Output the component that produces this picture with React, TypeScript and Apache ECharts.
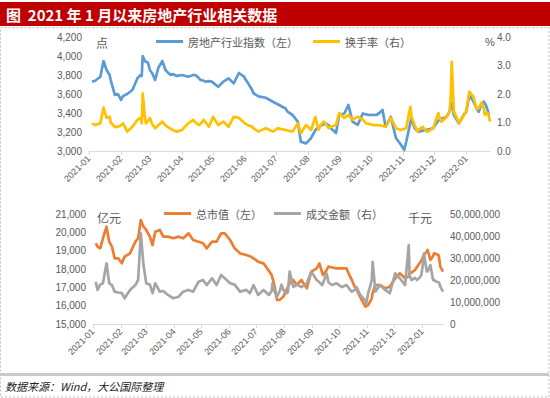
import React, { useEffect, useRef } from "react";
import * as echarts from "echarts";

// ---- top chart: 房地产行业指数 (left) & 换手率 (right) ----
const topDates = [
  "2021-01-04","2021-01-07","2021-01-12","2021-01-15","2021-01-18","2021-01-21","2021-01-22","2021-01-26","2021-01-29",
  "2021-02-01","2021-02-03","2021-02-07","2021-02-12","2021-02-17","2021-02-20","2021-02-21","2021-02-22","2021-02-24","2021-02-25","2021-02-27",
  "2021-03-01","2021-03-03","2021-03-06","2021-03-09","2021-03-13","2021-03-16","2021-03-18","2021-03-21","2021-03-23","2021-03-25","2021-03-27",
  "2021-04-01","2021-04-07","2021-04-12","2021-04-14","2021-04-17","2021-04-19","2021-04-22","2021-04-24","2021-04-27","2021-04-30",
  "2021-05-01","2021-05-06","2021-05-11","2021-05-16","2021-05-21","2021-05-26","2021-05-31",
  "2021-06-01","2021-06-04","2021-06-08","2021-06-09","2021-06-14","2021-06-21","2021-06-28",
  "2021-07-03","2021-07-07","2021-07-10","2021-07-12","2021-07-17","2021-07-22","2021-07-25","2021-07-30",
  "2021-08-04","2021-08-08","2021-08-11","2021-08-13","2021-08-16","2021-08-18","2021-08-21","2021-08-23","2021-08-28","2021-08-31",
  "2021-09-05","2021-09-09","2021-09-13","2021-09-18","2021-09-23","2021-09-26","2021-09-29",
  "2021-10-03","2021-10-06","2021-10-09","2021-10-12","2021-10-15","2021-10-20","2021-10-25","2021-10-30",
  "2021-11-02","2021-11-04","2021-11-06","2021-11-08","2021-11-09","2021-11-12","2021-11-15","2021-11-16","2021-11-20","2021-11-23","2021-11-25","2021-11-30",
  "2021-12-05","2021-12-06","2021-12-08","2021-12-12","2021-12-13","2021-12-16","2021-12-17","2021-12-18","2021-12-20","2021-12-25","2021-12-30",
  "2022-01-01","2022-01-04","2022-01-08","2022-01-11","2022-01-13","2022-01-16","2022-01-18","2022-01-19","2022-01-20","2022-01-22","2022-01-23","2022-01-24"
];
const indexValues = [
  3730,3740,3782,3947,3853,3800,3747,3590,3600,
  3537,3580,3600,3642,3768,3800,3790,4000,3950,3940,3930,
  3850,3821,3747,3874,3947,3853,3830,3800,3810,3800,3790,
  3800,3782,3800,3800,3770,3747,3740,3730,3735,3730,
  3720,3677,3730,3765,3712,3821,3782,
  3760,3712,3640,3610,3575,3560,3519,
  3490,3466,3450,3414,3379,3309,3098,3080,
  3137,3221,3250,3270,3280,3290,3270,3240,3190,3379,
  3395,3484,3309,3275,3395,3385,3379,
  3380,3379,3400,3432,3255,3360,3137,3063,
  3010,3100,3200,3300,3345,3240,3210,3204,3215,3220,3225,3240,
  3320,3325,3340,3355,3360,3420,3484,3500,3379,3290,3390,
  3412,3590,3520,3450,3412,3500,3520,3500,3484,3420,3379,3380
];
const turnoverValues = [
  0.97,0.91,0.97,1.52,1.16,1.2,1.0,0.85,0.85,
  0.9,0.97,0.68,0.85,1.1,1.16,0.97,2.02,1.2,0.97,1.05,
  1.16,0.95,0.8,0.9,1.03,0.9,0.85,0.78,0.74,0.7,0.68,
  0.74,0.97,1.09,1.0,0.91,0.95,1.09,1.0,0.85,1.1,
  1.2,0.91,1.03,0.85,1.2,1.16,1.0,
  0.97,0.9,0.85,0.8,0.68,0.8,0.68,
  0.8,0.76,0.74,0.72,0.68,0.97,0.62,0.91,
  0.74,1.2,0.74,0.9,1.03,0.95,0.8,0.85,0.91,1.33,
  1.16,1.27,1.1,1.2,1.1,0.97,0.95,
  0.91,0.91,0.91,0.88,0.85,1.16,0.8,0.74,
  0.78,0.8,1.2,1.55,1.2,0.91,0.68,0.75,0.85,0.7,0.68,0.8,
  1.33,1.2,1.03,1.16,1.2,1.39,1.9,3.13,1.39,0.97,1.27,
  1.4,2.08,1.9,1.47,1.5,1.7,1.5,1.27,1.3,1.33,1.2,1.03
];

// ---- bottom chart: 总市值 (left, 亿元) & 成交金额 (right, 千元) ----
const bottomDates = [
  "2021-01-04","2021-01-06","2021-01-09","2021-01-12","2021-01-16","2021-01-19","2021-01-22","2021-01-25","2021-01-29",
  "2021-02-02","2021-02-05","2021-02-11","2021-02-17","2021-02-20","2021-02-23","2021-02-26",
  "2021-03-01","2021-03-05","2021-03-08","2021-03-11","2021-03-16","2021-03-20","2021-03-25","2021-03-31",
  "2021-04-06","2021-04-11","2021-04-17","2021-04-22","2021-04-28",
  "2021-05-03","2021-05-07","2021-05-13","2021-05-18","2021-05-23","2021-05-27",
  "2021-06-02","2021-06-07","2021-06-13","2021-06-20","2021-06-24","2021-06-28",
  "2021-07-03","2021-07-09","2021-07-13","2021-07-15","2021-07-18","2021-07-19","2021-07-21","2021-07-24","2021-07-27","2021-07-29","2021-07-31",
  "2021-08-04","2021-08-05","2021-08-07","2021-08-11","2021-08-15","2021-08-20","2021-08-26","2021-08-31",
  "2021-09-06","2021-09-09","2021-09-12","2021-09-13","2021-09-17","2021-09-19","2021-09-23","2021-09-28",
  "2021-10-04","2021-10-09","2021-10-13","2021-10-15","2021-10-18","2021-10-20","2021-10-24","2021-10-26","2021-10-30","2021-10-31",
  "2021-11-02","2021-11-04","2021-11-06","2021-11-07","2021-11-10","2021-11-15","2021-11-21","2021-11-26",
  "2021-12-02","2021-12-07","2021-12-13","2021-12-17","2021-12-18","2021-12-20","2021-12-24","2021-12-26","2021-12-29","2021-12-31",
  "2022-01-02","2022-01-03","2022-01-06","2022-01-07","2022-01-10","2022-01-13","2022-01-14","2022-01-17","2022-01-19","2022-01-20","2022-01-21","2022-01-24"
];
const marketCapValues = [
  19400,19218,19127,19673,20309,19490,19218,18582,18582,
  18309,18673,18855,19490,19673,20673,20309,
  20127,19764,19309,20036,20127,19764,19764,19673,
  19764,19673,19945,19582,19490,
  19400,19127,19490,19490,19945,19945,
  19582,19127,18855,18764,18700,18582,
  18400,18309,18036,17900,17673,17500,17127,16309,16309,16400,16491,
  16900,17036,17200,17400,17127,17400,16945,17855,
  18036,18309,17800,17673,17950,18127,18080,18036,
  18036,18036,17582,17400,17036,16900,16491,16300,15945,15980,
  16036,16200,16400,16700,17127,17127,16945,17036,
  17491,17764,17491,17600,17764,17800,17945,18100,18309,18450,
  18673,18800,18950,19036,18491,18700,18855,18800,18764,18500,18127,17855
];
const turnoverAmountValues = [
  19200000,15500000,17900000,18500000,27600000,18500000,17700000,14700000,14300000,
  14000000,11700000,15500000,17700000,20000000,41200000,26800000,
  18500000,17900000,14000000,18500000,14700000,15000000,13200000,11700000,
  12400000,14700000,15500000,14700000,19200000,
  20000000,17700000,20800000,17700000,22300000,20800000,
  18500000,17900000,14700000,15500000,14000000,17700000,
  13200000,15500000,14000000,13200000,15000000,18500000,15000000,12400000,15000000,17900000,15500000,
  14000000,14500000,23800000,16800000,17900000,16800000,18500000,23800000,
  20000000,19000000,17700000,18500000,23000000,19000000,17700000,18500000,
  16800000,17700000,15500000,14700000,15500000,16800000,13500000,12400000,10500000,9400000,
  14000000,16800000,20000000,28300000,14700000,17700000,15500000,14000000,
  23000000,20800000,17700000,35900000,22000000,20000000,21000000,20000000,21000000,22300000,
  28000000,32100000,23800000,24000000,26800000,20000000,20000000,19200000,19000000,18500000,17000000,14700000
];

const FONT = '"Liberation Sans", "Noto Sans CJK SC", sans-serif';
const CJK = '"Noto Sans CJK SC", sans-serif';
const AXIS_TEXT = "#595959";

function buildDays(): string[] {
  const out: string[] = [];
  const start = Date.UTC(2021, 0, 1);
  const end = Date.UTC(2022, 0, 24);
  for (let t = start; t <= end; t += 86400000) {
    out.push(new Date(t).toISOString().slice(0, 10));
  }
  return out;
}

export default function App() {
  const ref = useRef<HTMLDivElement>(null);

  useEffect(() => {
    if (!ref.current) return;
    const chart = echarts.init(ref.current, undefined, { renderer: "svg" });
    const days = buildDays();
    const idx: Record<string, number> = {};
    days.forEach((d, i) => (idx[d] = i));
    const pairs = (dates: string[], vals: number[]) => dates.map((d, i) => [idx[d], vals[i]]);

    const isMonthStart = (_i: number, v: string) => String(v).slice(8) === "01";
    const xAxisBase = (gridIndex: number) => ({
      type: "category",
      gridIndex,
      data: days,
      boundaryGap: false,
      axisLine: { lineStyle: { color: "#d9d9d9", width: 1 } },
      axisTick: { show: true, length: 4, interval: isMonthStart, lineStyle: { color: "#d9d9d9" } },
      axisLabel: {
        interval: isMonthStart,
        rotate: 45,
        formatter: (v: string) => String(v).slice(0, 7),
        fontSize: 9,
        color: AXIS_TEXT,
        margin: 6,
        fontFamily: FONT,
      },
      splitLine: { show: false },
    });
    const yBase = (gridIndex: number, position: string, min: number, max: number, interval: number, fmt: (v: number) => string) => ({
      type: "value",
      gridIndex,
      position,
      min,
      max,
      interval,
      axisLine: { show: false },
      axisTick: { show: false },
      splitLine: { show: false },
      axisLabel: { formatter: fmt, color: AXIS_TEXT, fontSize: 10, margin: 7, fontFamily: FONT },
    });
    const commas = (v: number) => v.toLocaleString("en-US");
    const legendBase = {
      padding: 0,
      itemWidth: 27,
      itemHeight: 3,
      icon: "rect",
      itemGap: 0,
      textStyle: { fontSize: 11, color: AXIS_TEXT, fontFamily: CJK },
    };
    const lineSeries = (name: string, xi: number, yi: number, data: any[], color: string) => ({
      type: "line",
      name,
      xAxisIndex: xi,
      yAxisIndex: yi,
      data,
      showSymbol: false,
      symbol: "none",
      lineStyle: { color, width: 2.7, join: "round" },
      itemStyle: { color },
    });

    chart.setOption({
      animation: false,
      backgroundColor: "#ffffff",
      grid: [
        { left: 89, right: 60, top: 37, height: 114, containLabel: false },
        { left: 93, right: 107, top: 214, height: 110, containLabel: false },
      ],
      xAxis: [xAxisBase(0), xAxisBase(1)],
      yAxis: [
        yBase(0, "left", 3000, 4200, 200, commas),
        yBase(0, "right", 0, 4, 1, (v: number) => v.toFixed(1)),
        yBase(1, "left", 15000, 21000, 1000, commas),
        yBase(1, "right", 0, 50000000, 10000000, commas),
      ],
      legend: [
        { ...legendBase, data: ["房地产行业指数（左）"], left: 156, top: 36 },
        { ...legendBase, data: ["换手率（右）"], left: 313, top: 36 },
        { ...legendBase, data: ["总市值（左）"], left: 164, top: 208 },
        { ...legendBase, data: ["成交金额（右）"], left: 274, top: 208 },
      ],
      series: [
        lineSeries("房地产行业指数（左）", 0, 0, pairs(topDates, indexValues), "#5B9BD5"),
        lineSeries("换手率（右）", 0, 1, pairs(topDates, turnoverValues), "#FFC000"),
        lineSeries("总市值（左）", 1, 2, pairs(bottomDates, marketCapValues), "#ED7D31"),
        lineSeries("成交金额（右）", 1, 3, pairs(bottomDates, turnoverAmountValues), "#A5A5A5"),
      ],
      graphic: [
        { type: "rect", shape: { x: 0, y: 2, width: 550, height: 24 }, style: { fill: "#C00000" }, silent: true },
        {
          type: "text", x: 6, y: 14,
          style: { text: "图  2021 年 1 月以来房地产行业相关数据", fill: "#ffffff", font: `bold 15px ${CJK}`, verticalAlign: "middle" },
        },
        {
          type: "rect", shape: { x: 0.5, y: 27.5, width: 548.5, height: 369.5 },
          style: { fill: "none", stroke: "#bfbfbf", lineWidth: 1, lineDash: [2, 2] }, silent: true,
        },
        { type: "line", shape: { x1: 0, y1: 374.5, x2: 549, y2: 374.5 }, style: { stroke: "#c9c9c9", lineWidth: 3 }, silent: true },
        {
          type: "text", x: 5, y: 386,
          style: { text: "数据来源：Wind，大公国际整理", fill: "#222222", font: `italic 11px ${CJK}`, verticalAlign: "middle" },
        },
        { type: "text", x: 96, y: 42, style: { text: "点", fill: AXIS_TEXT, font: `12px ${CJK}`, verticalAlign: "middle" } },
        { type: "text", x: 485, y: 42, style: { text: "%", fill: AXIS_TEXT, font: `11px ${FONT}`, verticalAlign: "middle" } },
        { type: "text", x: 97, y: 217, style: { text: "亿元", fill: AXIS_TEXT, font: `12px ${CJK}`, verticalAlign: "middle" } },
        { type: "text", x: 408, y: 217, style: { text: "千元", fill: AXIS_TEXT, font: `12px ${CJK}`, verticalAlign: "middle" } },
      ],
    });
    return () => chart.dispose();
  }, []);

  return (
    <div
      ref={ref}
      style={{ position: "absolute", left: 0, top: 0, width: 550, height: 398, background: "#fff" }}
    />
  );
}
